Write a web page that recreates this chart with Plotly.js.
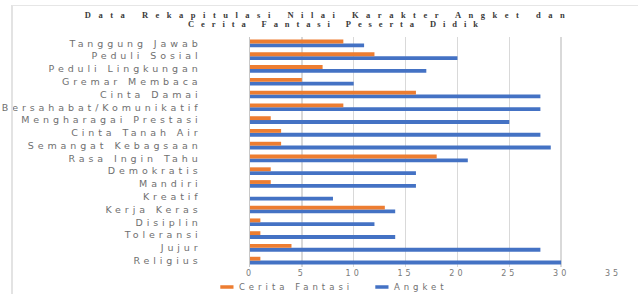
<!DOCTYPE html>
<html>
<head>
<meta charset="utf-8">
<script src="https://cdn.plot.ly/plotly-3.0.1.min.js"></script>
<style>
  html, body { margin: 0; padding: 0; background: #fff; }
  #wrap { position: relative; width: 638px; height: 294px; }
  #chart { width: 638px; height: 294px; }
  #frame { position: absolute; left: 11px; top: 5px; width: 640px; height: 300px;
           border-left: 2px solid #e3e3e3; border-top: 1px solid #e6e6e6; pointer-events: none; }
  .ytick text { letter-spacing: 3.9px; }
  g.ytick { transform: translateX(-17px); }
  .xtick text { letter-spacing: 3px; }
  .gtitle { letter-spacing: 7.5px; }
  .annotation-text { letter-spacing: 6.9px; }
  .legendtext { letter-spacing: 4px; }
  .legendpoints path { transform-box: fill-box; transform-origin: center;
                       transform: translate(28px, 0) scale(1.1, 0.3); }
</style>
</head>
<body>
<div id="wrap">
  <div id="chart"></div>
  <div id="frame"></div>
</div>
<script>
// categories listed bottom to top
const categories = ["Religius","Jujur","Toleransi","Disiplin","Kerja Keras","Kreatif","Mandiri","Demokratis","Rasa Ingin Tahu","Semangat Kebagsaan","Cinta Tanah Air","Mengharagai Prestasi","Bersahabat/Komunikatif","Cinta Damai","Gremar Membaca","Peduli Lingkungan","Peduli Sosial","Tanggung Jawab"];
const ceritaFantasi = [1,4,1,1,13,0,2,2,18,3,3,2,9,16,5,7,12,9];
const angket = [30,28,14,12,14,8,16,16,21,29,28,25,28,28,10,17,20,11];
const seriesNames = ["Cerita Fantasi","Angket"];
const xTicks = [0,5,10,15,20,25,30,35];
const titleLines = ["Data Rekapitulasi Nilai Karakter Angket dan", "Cerita Fantasi Peserta Didik"];

const traces = [
  { type: "bar", orientation: "h", name: seriesNames[1], y: categories, x: angket,
    marker: { color: "#4472C4" }, legendrank: 2 },
  { type: "bar", orientation: "h", name: seriesNames[0], y: categories, x: ceritaFantasi,
    marker: { color: "#ED7D31" }, legendrank: 1 }
];

const titleFont = { family: "Liberation Serif, serif", size: 8.5, color: "#3a3a3a" };

const layout = {
  width: 638, height: 294,
  margin: { l: 250, r: 25, t: 37, b: 27, pad: 0 },
  paper_bgcolor: "#ffffff", plot_bgcolor: "#ffffff",
  barmode: "group", bargap: 0.4, bargroupgap: 0,
  showlegend: true,
  font: { family: "DejaVu Sans, sans-serif", color: "#6f6f6f" },
  title: {
    text: "<b>" + titleLines[0] + "</b>",
    font: titleFont,
    x: 0.515, xref: "container", xanchor: "center",
    y: 1 - 15.5 / 294, yref: "container", yanchor: "middle"
  },
  annotations: [{
    text: "<b>" + titleLines[1] + "</b>", showarrow: false, font: titleFont,
    xref: "paper", yref: "paper",
    x: (0.515 * 638 + 8 - 250) / 363, xanchor: "center",
    y: 1 + (37 - 24.5) / 230, yanchor: "middle"
  }],
  xaxis: {
    range: [0, 35], tickvals: xTicks, ticktext: xTicks.map(String),
    showgrid: true, gridcolor: "#d9d9d9", gridwidth: 1.5,
    zeroline: false, showline: false, ticks: "",
    tickfont: { size: 8, color: "#7a7a7a" }, fixedrange: true
  },
  yaxis: {
    type: "category", categoryorder: "array", categoryarray: categories,
    showgrid: false, zeroline: false,
    showline: true, linecolor: "#c8c8c8", linewidth: 1.5,
    ticks: "", ticklabelstandoff: 28,
    tickfont: { size: 9.5, color: "#6f6f6f" }
  },
  legend: {
    orientation: "h", xref: "container", x: 0.5547, xanchor: "center",
    yref: "container", y: 0.024, yanchor: "middle", bgcolor: "rgba(0,0,0,0)",
    font: { size: 8.5, color: "#6f6f6f" }, traceorder: "normal",
    entrywidth: 110, entrywidthmode: "pixels"
  }
};

Plotly.newPlot("chart", traces, layout, { staticPlot: true, displayModeBar: false });
</script>
</body>
</html>
